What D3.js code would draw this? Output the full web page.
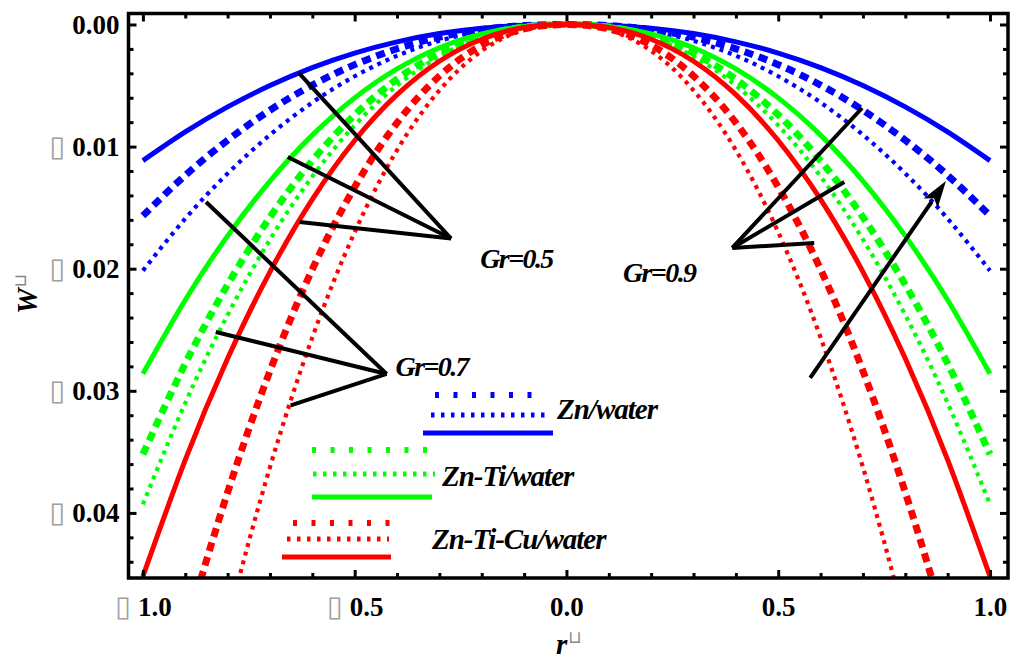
<!DOCTYPE html>
<html>
<head>
<meta charset="utf-8">
<script src="https://cdn.jsdelivr.net/npm/d3@7"></script>
<style>
  html, body { margin: 0; padding: 0; background: #fff; }
  svg { display: block; }
</style>
</head>
<body>
<svg id="chart" width="1014" height="659"></svg>
<script>
// radial positions r
const rValues = [-1.0, -0.9, -0.8, -0.7, -0.6, -0.5, -0.4, -0.3, -0.2, -0.1, 0.0,
                  0.1,  0.2,  0.3,  0.4,  0.5,  0.6,  0.7,  0.8,  0.9, 1.0];

// velocity profiles W(r)
const znSolid = [-0.01115, -0.00880, -0.00675, -0.00500, -0.00353, -0.00234, -0.00142, -0.00074, -0.00030, -0.00006, 0,
                 -0.00006, -0.00030, -0.00074, -0.00142, -0.00234, -0.00353, -0.00500, -0.00675, -0.00880, -0.01115];
const znDashed = [-0.01566, -0.01235, -0.00948, -0.00702, -0.00496, -0.00329, -0.00199, -0.00104, -0.00042, -0.00009, 0,
                  -0.00009, -0.00042, -0.00104, -0.00199, -0.00329, -0.00496, -0.00702, -0.00948, -0.01235, -0.01566];
const znDotted = [-0.02016, -0.01590, -0.01220, -0.00904, -0.00639, -0.00424, -0.00256, -0.00134, -0.00054, -0.00011, 0,
                  -0.00011, -0.00054, -0.00134, -0.00256, -0.00424, -0.00639, -0.00904, -0.01220, -0.01590, -0.02016];
const znTiSolid = [-0.02860, -0.02256, -0.01731, -0.01282, -0.00906, -0.00601, -0.00364, -0.00190, -0.00077, -0.00016, 0,
                   -0.00016, -0.00077, -0.00190, -0.00364, -0.00601, -0.00906, -0.01282, -0.01731, -0.02256, -0.02860];
const znTiDashed = [-0.03520, -0.02777, -0.02131, -0.01578, -0.01115, -0.00740, -0.00448, -0.00234, -0.00094, -0.00020, 0,
                    -0.00020, -0.00094, -0.00234, -0.00448, -0.00740, -0.01115, -0.01578, -0.02131, -0.02777, -0.03520];
const znTiDotted = [-0.03930, -0.03100, -0.02379, -0.01761, -0.01245, -0.00826, -0.00500, -0.00262, -0.00105, -0.00022, 0,
                    -0.00022, -0.00105, -0.00262, -0.00500, -0.00826, -0.01245, -0.01761, -0.02379, -0.03100, -0.03930];
const znTiCuSolid = [-0.04520, -0.03566, -0.02736, -0.02026, -0.01432, -0.00950, -0.00575, -0.00301, -0.00121, -0.00025, 0,
                     -0.00025, -0.00121, -0.00301, -0.00575, -0.00950, -0.01432, -0.02026, -0.02736, -0.03566, -0.04520];
const znTiCuDashed = [-0.06330, -0.04994, -0.03832, -0.02837, -0.02005, -0.01331, -0.00805, -0.00422, -0.00169, -0.00036, 0,
                      -0.00036, -0.00169, -0.00422, -0.00805, -0.01331, -0.02005, -0.02837, -0.03832, -0.04994, -0.06330];
const znTiCuDotted = [-0.08090, -0.06382, -0.04897, -0.03626, -0.02563, -0.01701, -0.01029, -0.00539, -0.00216, -0.00045, 0,
                      -0.00045, -0.00216, -0.00539, -0.01029, -0.01701, -0.02563, -0.03626, -0.04897, -0.06382, -0.08090];

// axis ticks
const xMajorTicks = [-1.0, -0.5, 0.0, 0.5, 1.0];
const yMajorTicks = [0.00, -0.01, -0.02, -0.03, -0.04];
const legendNames = ["Zn/water", "Zn-Ti/water", "Zn-Ti-Cu/water"];

// annotation pointers (r, W): hub then targets
const grLabels = [
  { text: "Gr=0.5", at: [-0.118, -0.0192], hub: [-0.2724, -0.01753],
    ends: [[-0.632, -0.00397], [-0.658, -0.01085], [-0.630, -0.01618]] },
  { text: "Gr=0.7", at: [-0.318, -0.0280], hub: [-0.4245, -0.02862],
    ends: [[-0.851, -0.01454], [-0.828, -0.02518], [-0.651, -0.03120]] },
  { text: "Gr=0.9", at: [0.219, -0.0203], hub: [0.3915, -0.01830],
    ends: [[0.698, -0.00684], [0.656, -0.01290], [0.585, -0.01790]] }
];
const arrowFrom = [0.5755, -0.02895];
const arrowTo = [0.896, -0.01282];

const SERIF = '"Liberation Serif"';
const BLUE = "#0000ff", GREEN = "#00ff00", RED = "#ff0000";
const styles = {
  solid:  { w: 5, dash: null },
  dashed: { w: 7, dash: "9,6" },
  dotted: { w: 4.2, dash: "4,5" }
};
const series = [
  { color: BLUE,  style: "solid",  values: znSolid },
  { color: BLUE,  style: "dashed", values: znDashed },
  { color: BLUE,  style: "dotted", values: znDotted },
  { color: GREEN, style: "solid",  values: znTiSolid },
  { color: GREEN, style: "dashed", values: znTiDashed },
  { color: GREEN, style: "dotted", values: znTiDotted },
  { color: RED,   style: "solid",  values: znTiCuSolid },
  { color: RED,   style: "dashed", values: znTiCuDashed },
  { color: RED,   style: "dotted", values: znTiCuDotted }
];

const L = 128.5, R = 1008, T = 13.5, B = 578;
const svg = d3.select("#chart");
const x = d3.scaleLinear().domain([-1.034, 1.0425]).range([L, R]);
const y = d3.scaleLinear().domain([0.0009, -0.04533]).range([T, B]);

function labelFont(sel, size) {
  return sel.style("font-family", SERIF).style("font-weight", "bold")
    .style("font-style", "italic").style("font-size", size + "px").style("fill", "#000");
}

svg.append("defs").append("clipPath").attr("id", "plotClip")
  .append("rect").attr("x", L).attr("y", T).attr("width", R - L).attr("height", B - T);

// curves
const line = d3.line().x(d => x(d[0])).y(d => y(d[1])).curve(d3.curveNatural);
const curves = svg.append("g").attr("clip-path", "url(#plotClip)");
series.forEach(s => {
  const st = styles[s.style];
  curves.append("path")
    .datum(rValues.map((r, i) => [r, s.values[i]]))
    .attr("d", line)
    .attr("fill", "none")
    .attr("stroke", s.color)
    .attr("stroke-width", st.w)
    .attr("stroke-dasharray", st.dash);
});

// annotations
const ann = svg.append("g").attr("stroke", "#000").attr("stroke-width", 4).attr("fill", "none");
grLabels.forEach(g => {
  g.ends.forEach(e => {
    ann.append("line")
      .attr("x1", x(g.hub[0])).attr("y1", y(g.hub[1]))
      .attr("x2", x(e[0])).attr("y2", y(e[1]));
  });
  svg.append("text")
    .attr("x", x(g.at[0])).attr("y", y(g.at[1]))
    .attr("text-anchor", "middle").attr("dominant-baseline", "central")
    .attr("letter-spacing", "-1.6")
    .call(labelFont, 28)
    .text(g.text);
});
{
  const x1 = x(arrowFrom[0]), y1 = y(arrowFrom[1]), x2 = x(arrowTo[0]), y2 = y(arrowTo[1]);
  const dx = x2 - x1, dy = y2 - y1, len = Math.hypot(dx, dy);
  const ux = dx / len, uy = dy / len, hl = 27, hw = 8.5;
  const bx = x2 - ux * hl, by = y2 - uy * hl;
  ann.append("line").attr("x1", x1).attr("y1", y1).attr("x2", bx + ux * 2).attr("y2", by + uy * 2);
  svg.append("path")
    .attr("d", `M${x2},${y2}L${bx - uy * hw},${by + ux * hw}L${bx + ux * 6},${by + uy * 6}L${bx + uy * hw},${by - ux * hw}Z`)
    .attr("fill", "#000");
}

// axes with inward ticks
const fmtY = d3.format(".2f"), fmtX = d3.format(".1f");
function styleTicks(sel, fmt) {
  sel.attr("font-family", null).attr("font-size", null);
  sel.selectAll(".tick line").attr("stroke", "#000").attr("stroke-width", 3);
  if (!fmt) return;
  sel.selectAll(".tick text").each(function(d) {
    const t = d3.select(this).text(null)
      .style("font-family", SERIF).style("font-weight", "bold")
      .style("font-size", "27px").style("fill", "#000");
    if (d < 0) {
      t.append("tspan").text("\u25AF")
        .style("font-family", '"DejaVu Sans"').style("font-weight", "normal")
        .style("font-size", "29px").style("fill", "#a0a0a0");
    }
    t.append("tspan").text((d < 0 ? " " : "") + fmt(Math.abs(d)));
  });
}
const xMinor = d3.range(-10, 11).map(i => i / 10).filter(v => !xMajorTicks.includes(v));
const yMinor = d3.range(0, 23).map(i => -i * 0.002).filter(v => Math.abs(Math.round(v * 100) - v * 100) > 1e-6);

const gx = svg.append("g").attr("transform", `translate(0,${B})`)
  .call(d3.axisBottom(x).tickValues(xMajorTicks).tickSize(-8).tickPadding(19).tickFormat(fmtX));
styleTicks(gx, fmtX);
styleTicks(svg.append("g").attr("transform", `translate(0,${B})`)
  .call(d3.axisBottom(x).tickValues(xMinor).tickSize(-5).tickFormat("")));
styleTicks(svg.append("g").attr("transform", `translate(0,${T})`)
  .call(d3.axisTop(x).tickValues(xMajorTicks).tickSize(-8).tickFormat("")));
styleTicks(svg.append("g").attr("transform", `translate(0,${T})`)
  .call(d3.axisTop(x).tickValues(xMinor).tickSize(-5).tickFormat("")));

const gy = svg.append("g").attr("transform", `translate(${L},0)`)
  .call(d3.axisLeft(y).tickValues(yMajorTicks).tickSize(-8).tickPadding(9).tickFormat(fmtY));
styleTicks(gy, fmtY);
styleTicks(svg.append("g").attr("transform", `translate(${L},0)`)
  .call(d3.axisLeft(y).tickValues(yMinor).tickSize(-5).tickFormat("")));
styleTicks(svg.append("g").attr("transform", `translate(${R},0)`)
  .call(d3.axisRight(y).tickValues(yMajorTicks).tickSize(-8).tickFormat("")));
styleTicks(svg.append("g").attr("transform", `translate(${R},0)`)
  .call(d3.axisRight(y).tickValues(yMinor).tickSize(-5).tickFormat("")));
svg.selectAll(".domain").remove();

// frame
svg.append("rect").attr("x", L).attr("y", T).attr("width", R - L).attr("height", B - T)
  .attr("fill", "none").attr("stroke", "#000").attr("stroke-width", 3.5);

// axis titles
function axisTitle(txt, tx, ty, rot) {
  const t = svg.append("text").call(labelFont, 29)
    .attr("transform", `translate(${tx},${ty}) rotate(${rot})`);
  t.append("tspan").text(txt);
  t.append("tspan").text("\u2294").attr("dy", "-11").attr("dx", "1")
    .style("font-family", '"DejaVu Sans"').style("font-style", "normal").style("font-weight", "normal")
    .style("font-size", "17px").style("fill", "#888");
}
axisTitle("W", 37, 314, -90);
axisTitle("r", 556, 654, 0);

// legend swatches: [dashed, dotted, solid] spans and rows
const legendRows = [
  { color: BLUE,  spans: [[435, 532], [431, 548], [423, 553]], ys: [395, 415, 433], tx: 557, ty: 419 },
  { color: GREEN, spans: [[312, 428], [313, 435], [312, 432]], ys: [450, 474, 497], tx: 442, ty: 486 },
  { color: RED,   spans: [[293, 391], [287, 389], [282, 391]], ys: [523, 539, 557], tx: 432, ty: 549 }
];
const swatch = [
  { w: 6, dash: "4,14.5" },
  { w: 5, dash: "3.5,6.5" },
  { w: 5, dash: null }
];
const leg = svg.append("g");
legendRows.forEach((g, i) => {
  swatch.forEach((sw, k) => {
    leg.append("line")
      .attr("x1", g.spans[k][0]).attr("x2", g.spans[k][1])
      .attr("y1", g.ys[k]).attr("y2", g.ys[k])
      .attr("stroke", g.color).attr("stroke-width", sw.w)
      .attr("stroke-dasharray", sw.dash);
  });
  leg.append("text").call(labelFont, 29).attr("x", g.tx).attr("y", g.ty)
    .attr("letter-spacing", "-1").text(legendNames[i]);
});
</script>
</body>
</html>
